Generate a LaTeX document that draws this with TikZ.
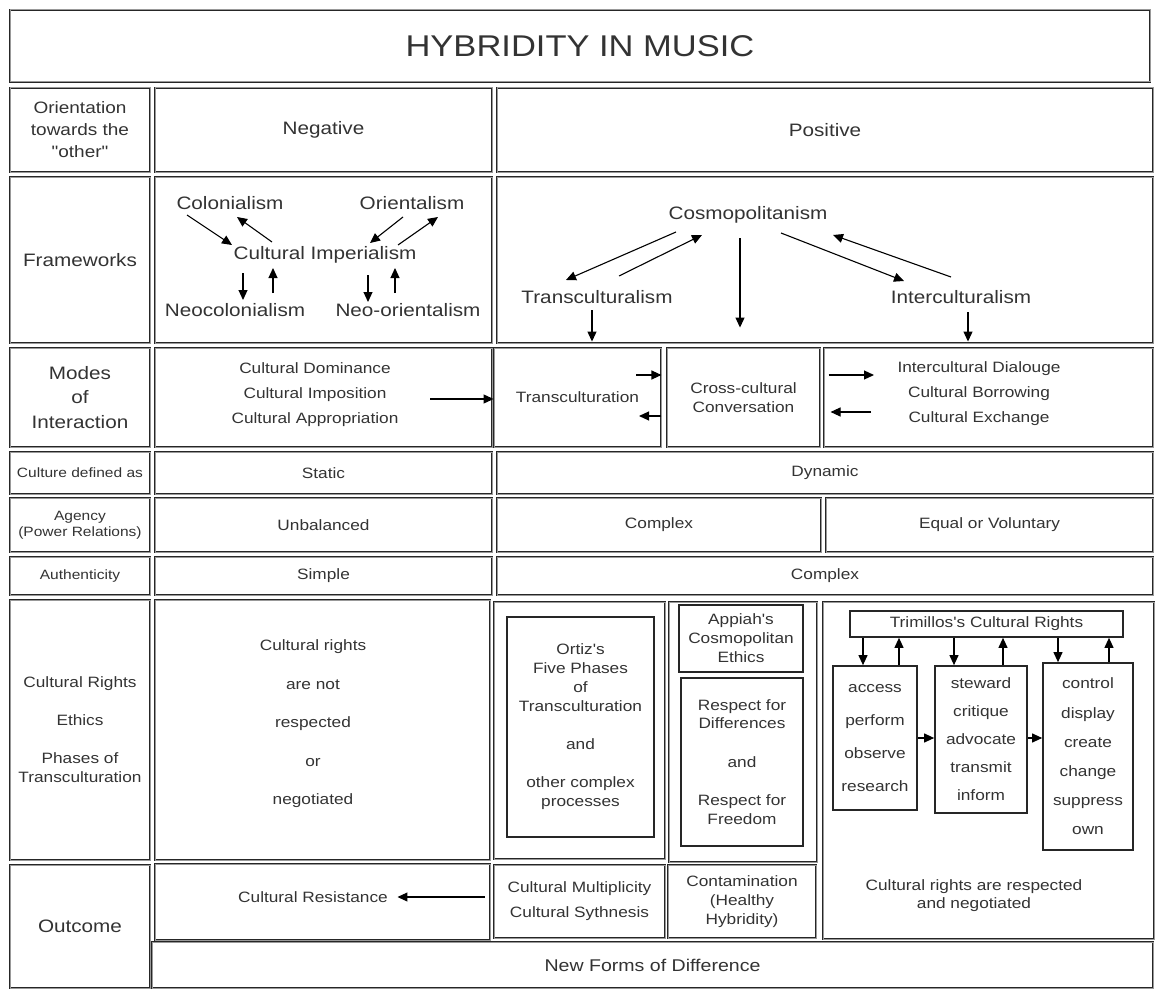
\documentclass[tikz,border=0pt]{standalone}
\usepackage{fontspec}
\setmainfont{Liberation Sans}[FakeStretch=1.15]
\newfontfamily\plainfam{Liberation Sans}[FakeStretch=1.15]
\usetikzlibrary{arrows.meta}
\tikzset{
  cell/.style={draw=black!85, line width=0.9pt, double=black!40, double distance=1pt, inner sep=0pt, text=black!80, align=center},
  ibox/.style={draw=black!85, line width=1.7pt, inner sep=0pt, text=black!80, align=center},
  lbl/.style={inner sep=0pt, text=black!80, align=center},
  arr/.style={-{Triangle[length=10pt,width=9pt]}, line width=1.1pt, draw=black},
  fs/.style 2 args={font=\plainfam\fontsize{#1}{#2}\selectfont},
}
\newcommand\cellbox[7][cell]{%
  \node[#1, minimum width={(#5-#3)*1pt}, minimum height={(#6-#4)*1pt}] (#2) at ({(#3+#5)/2},{-(#4+#6)/2}) {#7};}
\begin{document}
\begin{tikzpicture}[x=1pt,y=1pt]
\fill[white] (0,0) rectangle (1160,-990);
\useasboundingbox (0,0) rectangle (1160,-990);
% title
\cellbox[cell,fs={30}{36}]{title}{10}{10}{1150}{82}{HYBRIDITY IN MUSIC}
% row 1
\cellbox[cell,fs={16.5}{22}]{orl}{10}{88}{150}{172}{Orientation\\towards the\\"other"}
\cellbox[cell,fs={18}{24}]{neg}{155}{88}{492}{172}{Negative}
\cellbox[cell,fs={18}{24}]{pos}{497}{88}{1153}{172}{Positive}
% row 2
\cellbox[cell,fs={18}{24}]{fwl}{10}{177}{150}{343}{Frameworks}
\cellbox{negfw}{155}{177}{492}{343}{}
\cellbox{posfw}{497}{177}{1153}{343}{}
\node[lbl,fs={18}{24}] (col) at (230,-203) {Colonialism};
\node[lbl,fs={18}{24}] (ori) at (412,-203) {Orientalism};
\node[lbl,fs={18}{24}] (ci) at (325,-255) {Cultural Imperialism};
\node[lbl,fs={18}{24}] (neoc) at (235,-310) {Neocolonialism};
\node[lbl,fs={18}{24}] (neoo) at (408,-310) {Neo-orientalism};
\node[lbl,fs={18}{24}] (cos) at (748,-215) {Cosmopolitanism};
\node[lbl,fs={18}{24}] (trans) at (597,-297) {Transculturalism};
\node[lbl,fs={18}{24}] (inter) at (961,-297) {Interculturalism};
% row 3
\cellbox[cell,fs={18}{24.5}]{model}{10}{348}{150}{447}{Modes\\of\\Interaction}
\cellbox{negmode}{155}{348}{492}{447}{}
\node[lbl,fs={15}{25}] (negmt) at (315,-395) {Cultural Dominance\\Cultural Imposition\\Cultural Appropriation};
\cellbox[cell,fs={15}{19}]{transm}{494}{348}{661}{447}{Transculturation}
\cellbox[cell,fs={15}{19}]{cross}{667}{348}{820}{447}{Cross-cultural\\Conversation}
\cellbox{interm}{824}{348}{1153}{447}{}
\node[lbl,fs={15}{25}] (intert) at (979,-394) {Intercultural Dialouge\\Cultural Borrowing\\Cultural Exchange};
% row 4
\cellbox[cell,fs={13.5}{16}]{cdl}{10}{452}{150}{494}{Culture defined as}
\cellbox[cell,fs={15}{19}]{static}{155}{452}{492}{494}{Static}
\cellbox[cell,fs={15}{19}]{dyn}{497}{452}{1153}{494}{Dynamic}
% row 5
\cellbox[cell,fs={13.5}{16}]{agl}{10}{498}{150}{552}{Agency\\(Power Relations)}
\cellbox[cell,fs={15}{19}]{unbal}{155}{498}{492}{552}{Unbalanced}
\cellbox[cell,fs={15}{19}]{cplxa}{497}{498}{821}{552}{Complex}
\cellbox[cell,fs={15}{19}]{equal}{826}{498}{1153}{552}{Equal or Voluntary}
% row 6
\cellbox[cell,fs={13.5}{16}]{authl}{10}{557}{150}{595}{Authenticity}
\cellbox[cell,fs={15}{19}]{simple}{155}{557}{492}{595}{Simple}
\cellbox[cell,fs={15}{19}]{cplxb}{497}{557}{1153}{595}{Complex}
% row 7
\cellbox[cell,fs={15}{19}]{crl}{10}{600}{150}{860}{Cultural Rights\\[19pt]Ethics\\[19pt]Phases of\\Transculturation}
\cellbox{negcr}{155}{600}{490}{860}{}
\node[lbl,fs={15}{38.5}] (negcrt) at (313,-724) {Cultural rights\\are not\\respected\\or\\negotiated};
\cellbox{ortizo}{494}{602}{665}{859}{}
\cellbox[ibox,fs={15}{19}]{ortizi}{507}{617}{654}{837}{Ortiz's\\Five Phases\\of\\Transculturation\\[19pt]and\\[19pt]other complex\\processes}
\cellbox{appo}{669}{602}{817}{862}{}
\cellbox[ibox,fs={15}{19}]{appb}{679}{605}{803}{672}{Appiah's\\Cosmopolitan\\Ethics}
\cellbox[ibox,fs={15}{18.5}]{resp}{681}{678}{803}{846}{Respect for\\Differences\\[20pt]and\\[20pt]Respect for\\Freedom}
\cellbox{trimo}{823}{602}{1154}{939}{}
\cellbox[ibox,fs={15}{19}]{trim}{850}{611}{1123}{637}{Trimillos's Cultural Rights}
\cellbox[ibox,fs={15}{33}]{b1}{833}{666}{917}{810}{access\\perform\\observe\\research}
\cellbox[ibox,fs={15}{28}]{b2}{935}{666}{1027}{813}{steward\\critique\\advocate\\transmit\\inform}
\cellbox[ibox,fs={15}{29.2}]{b3}{1043}{663}{1133}{850}{control\\display\\create\\change\\suppress\\own}
\node[lbl,fs={15}{18}] (crt) at (974,-896) {Cultural rights are respected\\and negotiated};
% row 8
\cellbox[cell,fs={18}{24}]{outl}{10}{865}{150}{988}{Outcome}
\cellbox{resist}{155}{864}{490}{940}{}
\node[lbl,fs={15}{19}] (rest) at (313,-897) {Cultural Resistance};
\cellbox[cell,fs={15}{25}]{mult}{494}{865}{665}{938}{Cultural Multiplicity\\Cultural Sythnesis}
\cellbox[cell,fs={15}{19}]{contam}{668}{865}{816}{938}{Contamination\\(Healthy\\Hybridity)}
\cellbox[cell,fs={17}{20}]{newf}{152}{942}{1153}{988}{New Forms of Difference}
% arrows: negative frameworks
\draw[arr] ([shift={(-43,-12)}]col.center) -- ([shift={(-93,10)}]ci.center);
\draw[arr] ([shift={(-53,13)}]ci.center) -- ([shift={(7,-14)}]col.center);
\draw[arr] ([shift={(-9,-14)}]ori.center) -- ([shift={(45,12)}]ci.center);
\draw[arr] ([shift={(73,10)}]ci.center) -- ([shift={(26,-14)}]ori.center);
\draw[arr] ([shift={(-82,-18)}]ci.center) -- ([shift={(8,10)}]neoc.center);
\draw[arr] ([shift={(38,17)}]neoc.center) -- ([shift={(-52,-13)}]ci.center);
\draw[arr] ([shift={(43,-20)}]ci.center) -- ([shift={(-40,8)}]neoo.center);
\draw[arr] ([shift={(-13,17)}]neoo.center) -- ([shift={(70,-13)}]ci.center);
% arrows: positive frameworks
\draw[arr] ([shift={(-72,-17)}]cos.center) -- ([shift={(-31,17)}]trans.center);
\draw[arr] ([shift={(22,21)}]trans.center) -- ([shift={(-46,-20)}]cos.center);
\draw[arr] ([shift={(-8,-23)}]cos.center) -- ([shift={(-3.5,20)}]cross.north);
\draw[arr] ([shift={(33,-18)}]cos.center) -- ([shift={(-57,16)}]inter.center);
\draw[arr] ([shift={(-10,20)}]inter.center) -- ([shift={(85,-20)}]cos.center);
\draw[arr] ([shift={(-5,-13)}]trans.center) -- ([shift={(14.5,6)}]transm.north);
\draw[arr] ([shift={(7,-15)}]inter.center) -- ([shift={(-20.5,6)}]interm.north);
% arrows: modes
\draw[arr] ([shift={(115,-4)}]negmt.center) -- ([yshift=-1.5]transm.west);
\draw[arr] ([shift={(58.5,22.5)}]transm.center) -- ([yshift=22.5]transm.east);
\draw[arr] ([yshift=-18.5]transm.east) -- ([shift={(61.5,-18.5)}]transm.center);
\draw[arr] ([shift={(5,22.5)}]interm.west) -- ([shift={(-105,19)}]intert.center);
\draw[arr] ([shift={(-108,-18)}]intert.center) -- ([shift={(7,-14.5)}]interm.west);
% arrow: outcome
\draw[arr] ([shift={(-9,4.5)}]mult.west) -- ([xshift=9.5]rest.east);
% arrows: Trimillos
\draw[arr] ([xshift=-123.5]trim.south) -- ([xshift=-12]b1.north);
\draw[arr] ([xshift=24]b1.north) -- ([xshift=-87.5]trim.south);
\draw[arr] ([xshift=-32.5]trim.south) -- ([xshift=-27]b2.north);
\draw[arr] ([xshift=22]b2.north) -- ([xshift=16.5]trim.south);
\draw[arr] ([xshift=71.5]trim.south) -- ([xshift=-30]b3.north);
\draw[arr] ([xshift=21]b3.north) -- ([xshift=122.5]trim.south);
\draw[arr] (b1.east) -- ([yshift=1.5]b2.west);
\draw[arr] ([yshift=1.5]b2.east) -- ([yshift=18.5]b3.west);
\end{tikzpicture}
\end{document}
